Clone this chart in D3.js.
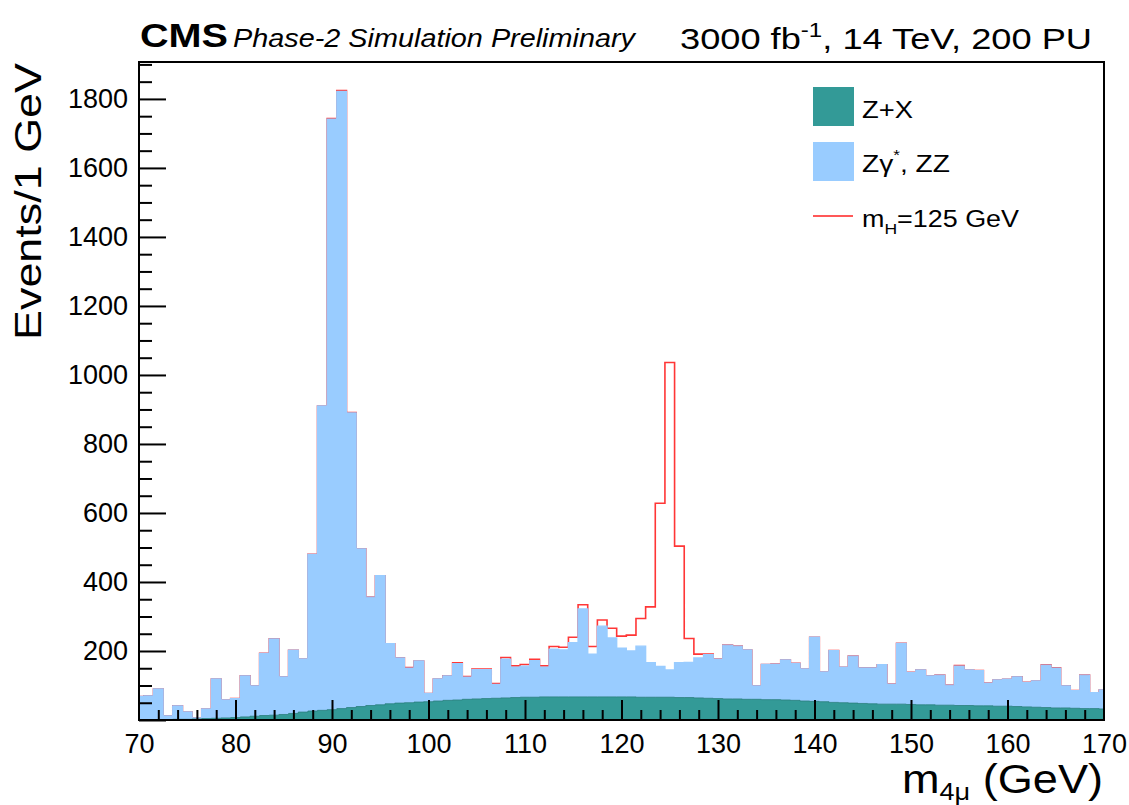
<!DOCTYPE html>
<html>
<head>
<meta charset="utf-8">
<script src="https://cdn.jsdelivr.net/npm/d3@7"></script>
<style>
  html, body { margin: 0; padding: 0; background: #fff; }
  svg { display: block; font-family: "Liberation Sans", Arial, Helvetica, sans-serif; }
</style>
</head>
<body>
<svg id="chart" width="1129" height="805"></svg>
<script>
// ---- Data (events per 1 GeV bin, bins centred on integer masses 70..170) ----
const binCenters = d3.range(70, 171);
const zxEvents = [0,0,1,1,2,2,3,4,5,6, 7,9,11,13,14,16,19,23,26,28, 30,33,36,39,42,44,47,49,50,52,
  53,55,57,58,60,61,62,63,64,65, 66,66,67,67,67,67,67,67,67,67, 67,67,66,66,66,66,65,65,64,63,
  62,61,61,60,60,59,59,58,57,55, 54,53,51,50,49,48,47,46,46,46, 45,44,44,43,43,42,42,41,41,40,
  40,39,38,37,36,35,35,34,33,33, 32];
const zzEvents = [68,70,89,11,39,21,3,28,114,52, 55,119,88,180,221,109,183,154,454,882,
  1711,1789,854,457,314,374,174,131,100,119, 24,64,71,105,64,85,84,40,112,88,
  90,106,86,138,136,157,255,124,205,171, 141,133,148,100,89,79,101,102,116,126,
  114,156,153,143,39,102,103,116,107,93, 186,86,150,103,136,103,104,114,58,176,
  93,101,84,87,58,114,103,102,66,76, 78,86,71,76,123,115,64,51,97,46, 55];
const higgsEvents = [0,0,0,0,0,0,0,0,0,0, 0,0,0,0,0,0,0,0,0,0,
  2,2,1,0,0,0,0,0,2,0, 0,0,0,3,2,2,2,3,5,4,
  5,4,4,8,8,16,12,22,18,28, 35,46,80,162,473,891,338,69,11,2,
  1,0,0,0,0,0,0,0,0,0, 0,0,0,0,0,0,0,0,0,0,
  0,0,0,0,0,2,0,0,0,0, 0,0,0,0,1,1,0,0,0,0, 0];
const xTickValues = [70,80,90,100,110,120,130,140,150,160,170];
const yTickValues = [0,200,400,600,800,1000,1200,1400,1600,1800];
const legendLabels = ["Z+X", "Zγ*, ZZ", "mH=125 GeV"];

// ---- Layout ----
const svg = d3.select("#chart");
const plot = {left: 139, right: 1104, top: 62, bottom: 720};
const x = d3.scaleLinear().domain([70, 170]).range([plot.left, plot.right]);
const y = d3.scaleLinear().domain([0, 1907]).range([plot.bottom, plot.top]);

const colZX = "#339a97", colZZ = "#99ccff", colH = "#ff2020";

// cumulative stacks
const bins = binCenters.map((c, i) => {
  const lo = Math.max(70, c - 0.5), hi = Math.min(170, c + 0.5);
  const zx = zxEvents[i], zz = zzEvents[i], h = higgsEvents[i];
  return {lo, hi, zx, bkg: zx + zz, tot: zx + zz + h};
});

function stepPoints(key) {
  const pts = [];
  bins.forEach(b => { pts.push([b.lo, b[key]]); pts.push([b.hi, b[key]]); });
  return pts;
}

svg.append("clipPath").attr("id", "plotclip")
  .append("rect").attr("x", plot.left).attr("y", plot.top)
  .attr("width", plot.right - plot.left).attr("height", plot.bottom - plot.top);

const g = svg.append("g").attr("clip-path", "url(#plotclip)");

const line = d3.line().x(d => x(d[0])).y(d => y(d[1]));
const area = d3.area().x(d => x(d[0])).y0(y(0)).y1(d => y(d[1]));

// THStack order: total outline first, then background fills over it
const totPts = stepPoints("tot");
totPts.unshift([70, 0]); totPts.push([170, 0]);
g.append("path").attr("d", line(totPts)).attr("fill", "none")
  .attr("stroke", colH).attr("stroke-width", 1.6).attr("opacity", 0.9);
g.append("path").attr("d", area(stepPoints("bkg"))).attr("fill", colZZ)
  .attr("stroke", colZZ).attr("stroke-width", 1.4);
g.append("path").attr("d", area(stepPoints("zx"))).attr("fill", colZX)
  .attr("stroke", "#2b7f7c").attr("stroke-width", 0.8);

// ---- Axes ----
const yMinor = d3.range(0, 1901, 50).filter(v => v % 200 !== 0);
const xMinor = d3.range(70, 171, 2).filter(v => v % 10 !== 0);

const yAx = svg.append("g").attr("transform", `translate(${plot.left},0)`)
  .call(d3.axisLeft(y).tickValues(yTickValues).tickFormat(d3.format("d"))
    .tickSizeInner(-27).tickSizeOuter(0).tickPadding(11));
svg.append("g").attr("transform", `translate(${plot.left},0)`)
  .call(d3.axisLeft(y).tickValues(yMinor).tickSizeInner(-13).tickSizeOuter(0).tickFormat(""));
const xAx = svg.append("g").attr("transform", `translate(0,${plot.bottom})`)
  .call(d3.axisBottom(x).tickValues(xTickValues).tickFormat(d3.format("d"))
    .tickSizeInner(-20).tickSizeOuter(0).tickPadding(14));
svg.append("g").attr("transform", `translate(0,${plot.bottom})`)
  .call(d3.axisBottom(x).tickValues(xMinor).tickSizeInner(-10).tickSizeOuter(0).tickFormat(""));

svg.selectAll(".domain").remove();
svg.selectAll(".tick line").attr("stroke", "#000").attr("stroke-width", 2);
yAx.selectAll("text").attr("font-size", 27).attr("fill", "#000")
  .attr("font-family", "Liberation Sans, Arial, sans-serif");
xAx.selectAll("text").attr("font-size", 27).attr("fill", "#000")
  .attr("font-family", "Liberation Sans, Arial, sans-serif");
yAx.selectAll(".tick text").filter(d => d === 0).remove();
xAx.selectAll(".tick line").filter(d => d === 70 || d === 170).remove();

// frame
svg.append("rect").attr("x", plot.left).attr("y", plot.top)
  .attr("width", plot.right - plot.left).attr("height", plot.bottom - plot.top)
  .attr("fill", "none").attr("stroke", "#000").attr("stroke-width", 2);

// ---- Titles ----
svg.append("text").attr("transform", "translate(41,63) rotate(-90)")
  .attr("text-anchor", "end").attr("font-size", 36)
  .attr("textLength", 277).attr("lengthAdjust", "spacingAndGlyphs")
  .text("Events/1 GeV");

const xt = svg.append("text").attr("x", 1103).attr("y", 793).attr("text-anchor", "end")
  .attr("font-size", 40).attr("textLength", 201).attr("lengthAdjust", "spacingAndGlyphs");
xt.append("tspan").text("m");
xt.append("tspan").attr("font-size", 24).attr("dy", 7).text("4μ");
xt.append("tspan").attr("dy", -7).text(" (GeV)");

svg.append("text").attr("x", 140).attr("y", 47).attr("font-size", 34).attr("font-weight", "bold")
  .attr("textLength", 88).attr("lengthAdjust", "spacingAndGlyphs").text("CMS");
svg.append("text").attr("x", 233).attr("y", 47).attr("font-size", 25).attr("font-style", "italic")
  .attr("textLength", 402).attr("lengthAdjust", "spacingAndGlyphs").text("Phase-2 Simulation Preliminary");

const rt = svg.append("text").attr("x", 680).attr("y", 49).attr("font-size", 30)
  .attr("textLength", 412).attr("lengthAdjust", "spacingAndGlyphs");
rt.append("tspan").text("3000 fb");
rt.append("tspan").attr("font-size", 20).attr("dy", -12).text("-1");
rt.append("tspan").attr("dy", 12).text(", 14 TeV, 200 PU");

// ---- Legend ----
const lg = svg.append("g");
lg.append("rect").attr("x", 813).attr("y", 87).attr("width", 41).attr("height", 39).attr("fill", colZX);
lg.append("rect").attr("x", 813).attr("y", 142).attr("width", 41).attr("height", 39).attr("fill", colZZ);
lg.append("line").attr("x1", 813).attr("x2", 853).attr("y1", 216).attr("y2", 216)
  .attr("stroke", colH).attr("stroke-width", 1.5);

lg.append("text").attr("x", 862).attr("y", 118).attr("font-size", 23)
  .attr("textLength", 51).attr("lengthAdjust", "spacingAndGlyphs").text(legendLabels[0]);
const l2 = lg.append("text").attr("x", 862).attr("y", 172).attr("font-size", 23)
  .attr("textLength", 88).attr("lengthAdjust", "spacingAndGlyphs");
l2.append("tspan").text("Zγ");
l2.append("tspan").attr("font-size", 14).attr("dy", -12).text("*");
l2.append("tspan").attr("dy", 12).text(", ZZ");
const l3 = lg.append("text").attr("x", 862).attr("y", 227).attr("font-size", 23)
  .attr("textLength", 157).attr("lengthAdjust", "spacingAndGlyphs");
l3.append("tspan").text("m");
l3.append("tspan").attr("font-size", 15).attr("dy", 7).text("H");
l3.append("tspan").attr("dy", -7).text("=125 GeV");
</script>
</body>
</html>
